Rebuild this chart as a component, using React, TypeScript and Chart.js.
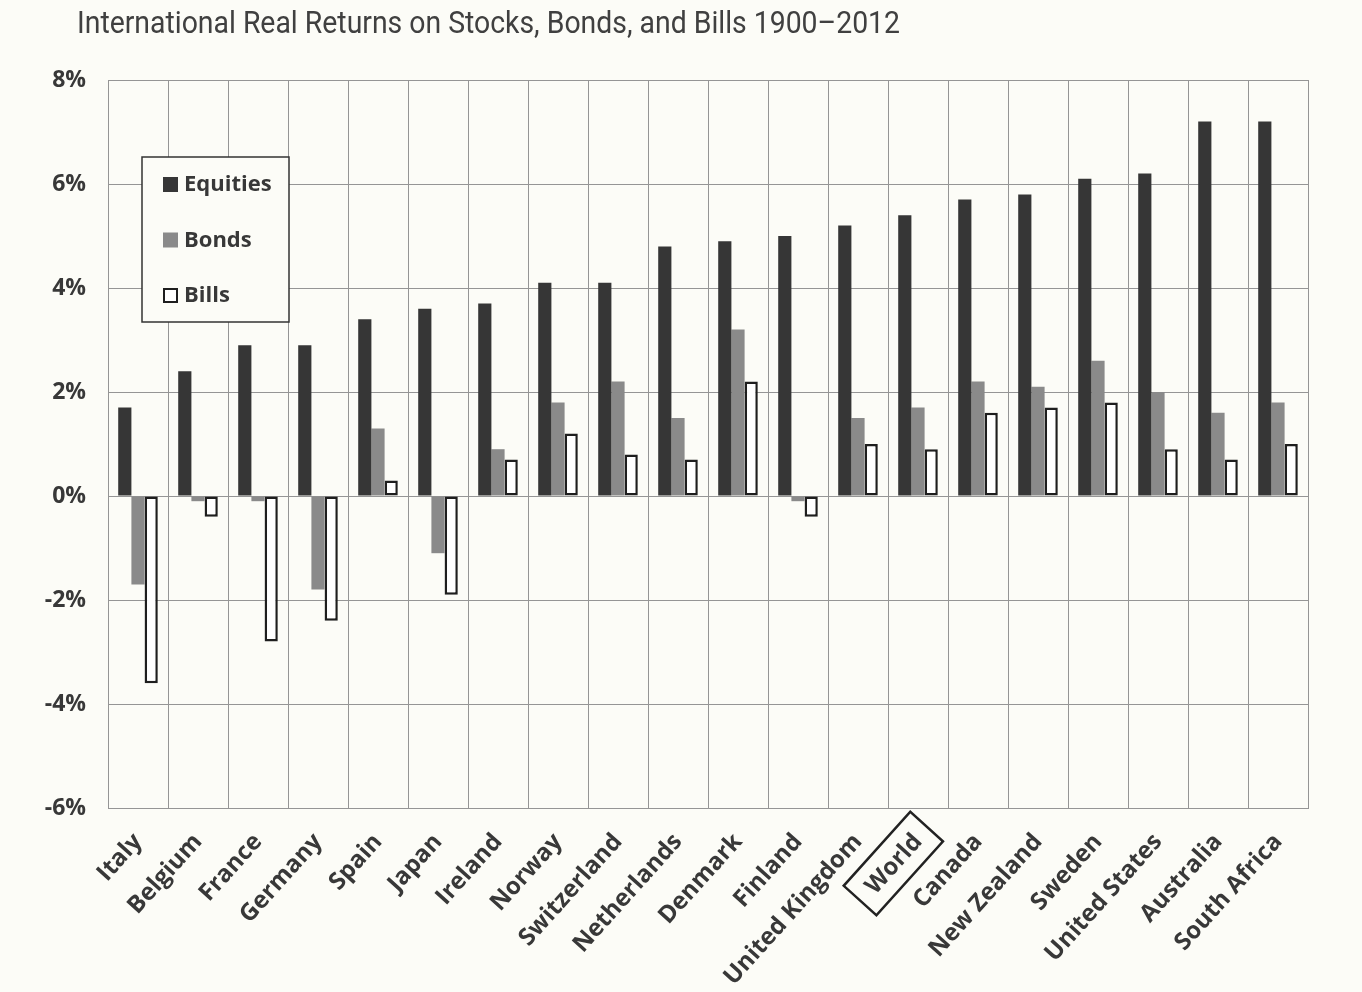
import React, { useEffect, useRef } from "react";
import { Chart, registerables } from "chart.js";
Chart.register(...registerables);

const titleText = "International Real Returns on Stocks, Bonds, and Bills 1900–2012";
const countries = [
  "Italy", "Belgium", "France", "Germany", "Spain", "Japan", "Ireland", "Norway",
  "Switzerland", "Netherlands", "Denmark", "Finland", "United Kingdom", "World",
  "Canada", "New Zealand", "Sweden", "United States", "Australia", "South Africa",
];
const equities = [1.7, 2.4, 2.9, 2.9, 3.4, 3.6, 3.7, 4.1, 4.1, 4.8, 4.9, 5.0, 5.2, 5.4, 5.7, 5.8, 6.1, 6.2, 7.2, 7.2];
const bonds = [-1.7, -0.1, -0.1, -1.8, 1.3, -1.1, 0.9, 1.8, 2.2, 1.5, 3.2, -0.1, 1.5, 1.7, 2.2, 2.1, 2.6, 2.0, 1.6, 1.8];
const bills = [-3.6, -0.4, -2.8, -2.4, 0.3, -1.9, 0.7, 1.2, 0.8, 0.7, 2.2, -0.4, 1.0, 0.9, 1.6, 1.7, 1.8, 0.9, 0.7, 1.0];
const seriesNames = ["Equities", "Bonds", "Bills"];
const yMin = -6;
const yMax = 8;
const yStep = 2;
const highlighted = "World";

const BG = "#fcfcf7";
const TEXT = "#383838";
const GRID = "#959595";
const labelFont = "'Open Sans', 'DejaVu Sans', sans-serif";

export default function App() {
  const ref = useRef<HTMLCanvasElement | null>(null);

  useEffect(() => {
    document.body.style.margin = "0";
    document.body.style.background = BG;
    const canvas = ref.current;
    if (!canvas) return;

    const bgPlugin = {
      id: "bg",
      beforeDraw(chart: any) {
        const ctx = chart.ctx;
        ctx.save();
        ctx.fillStyle = BG;
        ctx.fillRect(0, 0, chart.width, chart.height);
        ctx.font = "31px Roboto, 'Liberation Sans', sans-serif";
        ctx.fillStyle = "#404040";
        ctx.textBaseline = "alphabetic";
        ctx.textAlign = "left";
        const w = ctx.measureText(titleText).width;
        ctx.translate(77, 33);
        ctx.scale(823 / w, 1);
        ctx.fillText(titleText, 0, 0);
        ctx.restore();
      },
    };

    const extrasPlugin = {
      id: "extras",
      afterDraw(chart: any) {
        const ctx = chart.ctx;
        const area = chart.chartArea;
        // legend box
        const bx = area.left + 34;
        const by = area.top + 77;
        const bw = 147;
        const bh = 165;
        ctx.save();
        ctx.fillStyle = BG;
        ctx.fillRect(bx, by, bw, bh);
        ctx.strokeStyle = "#333";
        ctx.lineWidth = 1.5;
        ctx.strokeRect(bx, by, bw, bh);
        ctx.font = `bold 22px ${labelFont}`;
        ctx.textBaseline = "middle";
        ctx.textAlign = "left";
        chart.data.datasets.forEach((ds: any, i: number) => {
          const cy = by + 28 + i * 55.5;
          const sx = bx + 21;
          if (ds.borderWidth && ds.borderWidth > 0) {
            ctx.fillStyle = "#fff";
            ctx.fillRect(sx + 1, cy - 7, 13, 13);
            ctx.strokeStyle = ds.borderColor;
            ctx.lineWidth = 2;
            ctx.strokeRect(sx + 1, cy - 7, 13, 13);
          } else {
            ctx.fillStyle = ds.backgroundColor;
            ctx.fillRect(sx, cy - 8, 15, 15);
          }
          ctx.fillStyle = TEXT;
          ctx.fillText(ds.label, sx + 21, cy);
        });
        // box around highlighted label
        const xs = chart.scales.x;
        const idx = countries.indexOf(highlighted);
        const items = xs.getLabelItems ? xs.getLabelItems() : null;
        if (items && items[idx]) {
          const it = items[idx];
          const [tx, ty] = it.options.translation;
          const rot = it.options.rotation;
          ctx.font = it.font.string;
          const w = ctx.measureText(String(it.label)).width;
          const h = it.font.size;
          const off = it.textOffset;
          ctx.translate(tx, ty);
          ctx.rotate(rot);
          ctx.strokeStyle = "#222";
          ctx.lineWidth = 2.5;
          ctx.strokeRect(-w - 14, off - h / 2 - 11, w + 28, h + 20);
        }
        ctx.restore();
      },
    };

    const chart = new Chart(canvas, {
      type: "bar",
      data: {
        labels: countries,
        datasets: [
          { label: seriesNames[0], data: equities, backgroundColor: "#363636", borderWidth: 0 },
          { label: seriesNames[1], data: bonds, backgroundColor: "#8a8a8a", borderWidth: 0 },
          {
            label: seriesNames[2], data: bills, backgroundColor: "#ffffff",
            borderColor: "#1e1e1e", borderWidth: 2.5, borderSkipped: false,
          },
        ],
      },
      options: {
        responsive: false,
        animation: false,
        devicePixelRatio: 1,
        layout: { padding: { top: 80, right: 54, left: 0, bottom: 0 } },
        datasets: { bar: { categoryPercentage: 0.66, barPercentage: 1.0 } },
        plugins: { legend: { display: false }, title: { display: false }, tooltip: { enabled: false } },
        scales: {
          x: {
            afterFit: (s: any) => { s.height = 184; },
            grid: { color: GRID, lineWidth: 1, drawTicks: false, offset: true },
            border: { display: true, color: GRID },
            ticks: {
              autoSkip: false, maxRotation: 48, minRotation: 48, padding: 20,
              color: TEXT, font: { family: labelFont, size: 24, weight: "bold" },
            },
          },
          y: {
            min: yMin, max: yMax,
            afterFit: (s: any) => { s.width = 108; },
            grid: { color: GRID, lineWidth: 1, drawTicks: false },
            border: { display: true, color: GRID },
            ticks: {
              stepSize: yStep, padding: 22, color: TEXT,
              font: { family: labelFont, size: 23, weight: "bold" },
              callback: (v: any) => `${v}%`,
            },
          },
        },
      },
      plugins: [bgPlugin, extrasPlugin],
    });
    return () => chart.destroy();
  }, []);

  return (
    <div style={{ width: 1362, height: 992, background: BG }}>
      <canvas ref={ref} width={1362} height={992} style={{ display: "block" }} />
    </div>
  );
}
